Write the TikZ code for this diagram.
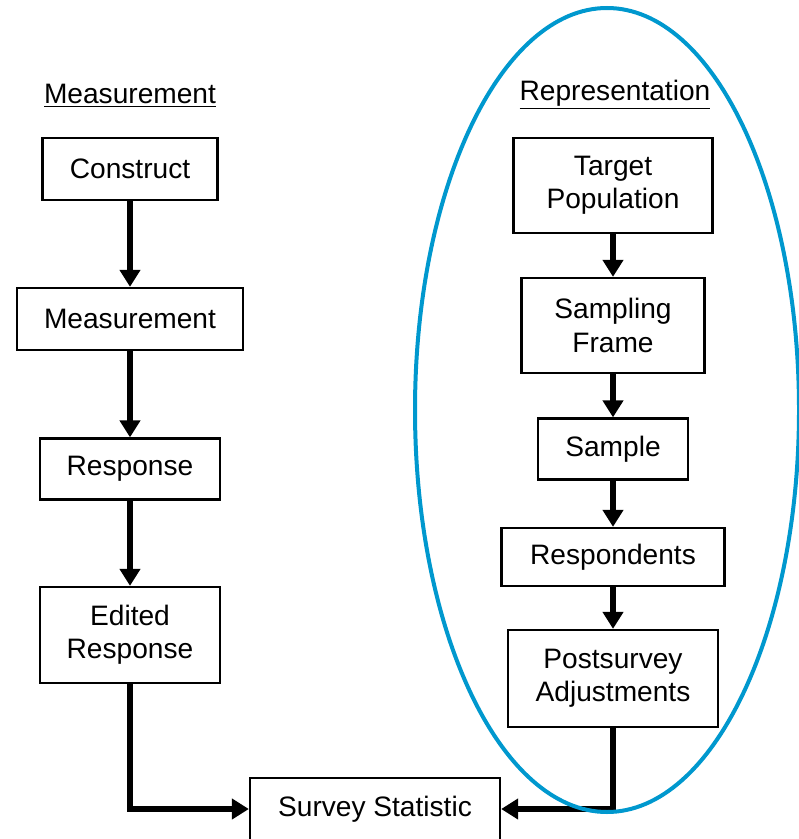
\documentclass[tikz,border=0pt]{standalone}
\usepackage{fontspec}
\setmainfont{Liberation Sans}
\usepackage{tikz}
\usetikzlibrary{arrows.meta}
\definecolor{ringcolor}{RGB}{0,152,206}

\begin{document}
\begin{tikzpicture}[font=\fontsize{16}{19}\selectfont,
                    block/.style={rectangle, draw, line width=1.3pt, align=center,
                    inner sep=0pt, minimum height=1.24cm},
                    flow/.style={line width=3.1pt, -{Triangle[length=0.34cm,width=0.4cm]}}]
    \useasboundingbox (0,0) rectangle (15.96,-16.78);
    % left column
    \node (meashead) at (2.6,-1.92) {\underline{Measurement}};
    \node [block, minimum width=3.5cm] (construct) at (2.6,-3.38) {Construct};
    \node [block, minimum width=4.52cm] (measure) at (2.6,-6.38) {Measurement};
    \node [block, minimum width=3.6cm, minimum height=1.22cm] (response) at (2.6,-9.38) {Response};
    \node [block, minimum width=3.6cm, minimum height=1.92cm] (edited) at (2.6,-12.7) {Edited\\Response};
    % right column
    \node (rephead) at (12.3,-1.9) {\underline{Representation}};
    \node [block, minimum width=3.98cm, minimum height=1.9cm] (target) at (12.26,-3.71) {Target\\Population};
    \node [block, minimum width=3.66cm, minimum height=1.9cm] (frame) at (12.26,-6.51) {Sampling\\Frame};
    \node [block, minimum width=3.0cm, minimum height=1.22cm] (sample) at (12.26,-8.98) {Sample};
    \node [block, minimum width=4.46cm, minimum height=1.16cm] (respond) at (12.26,-11.14) {Respondents};
    \node [block, minimum width=4.2cm, minimum height=1.94cm] (adjust) at (12.26,-13.57) {Postsurvey\\Adjustments};
    % bottom
    \node [block, minimum width=5.0cm] (stat) at (7.5,-16.18) {Survey Statistic};

    \draw [flow] (construct) -- (measure);
    \draw [flow] (measure) -- (response);
    \draw [flow] (response) -- (edited);
    \draw [flow] (edited.south) |- (stat.west);
    \draw [flow] (target) -- (frame);
    \draw [flow] (frame) -- (sample);
    \draw [flow] (sample) -- (respond);
    \draw [flow] (respond) -- (adjust);
    \draw [flow] (adjust.south) |- (stat.east);

    % ring round the representation side
    \draw [ringcolor, line width=0.08cm] (12.14,-8.2) ellipse [x radius=3.84cm, y radius=8.04cm];
\end{tikzpicture}
\end{document}
